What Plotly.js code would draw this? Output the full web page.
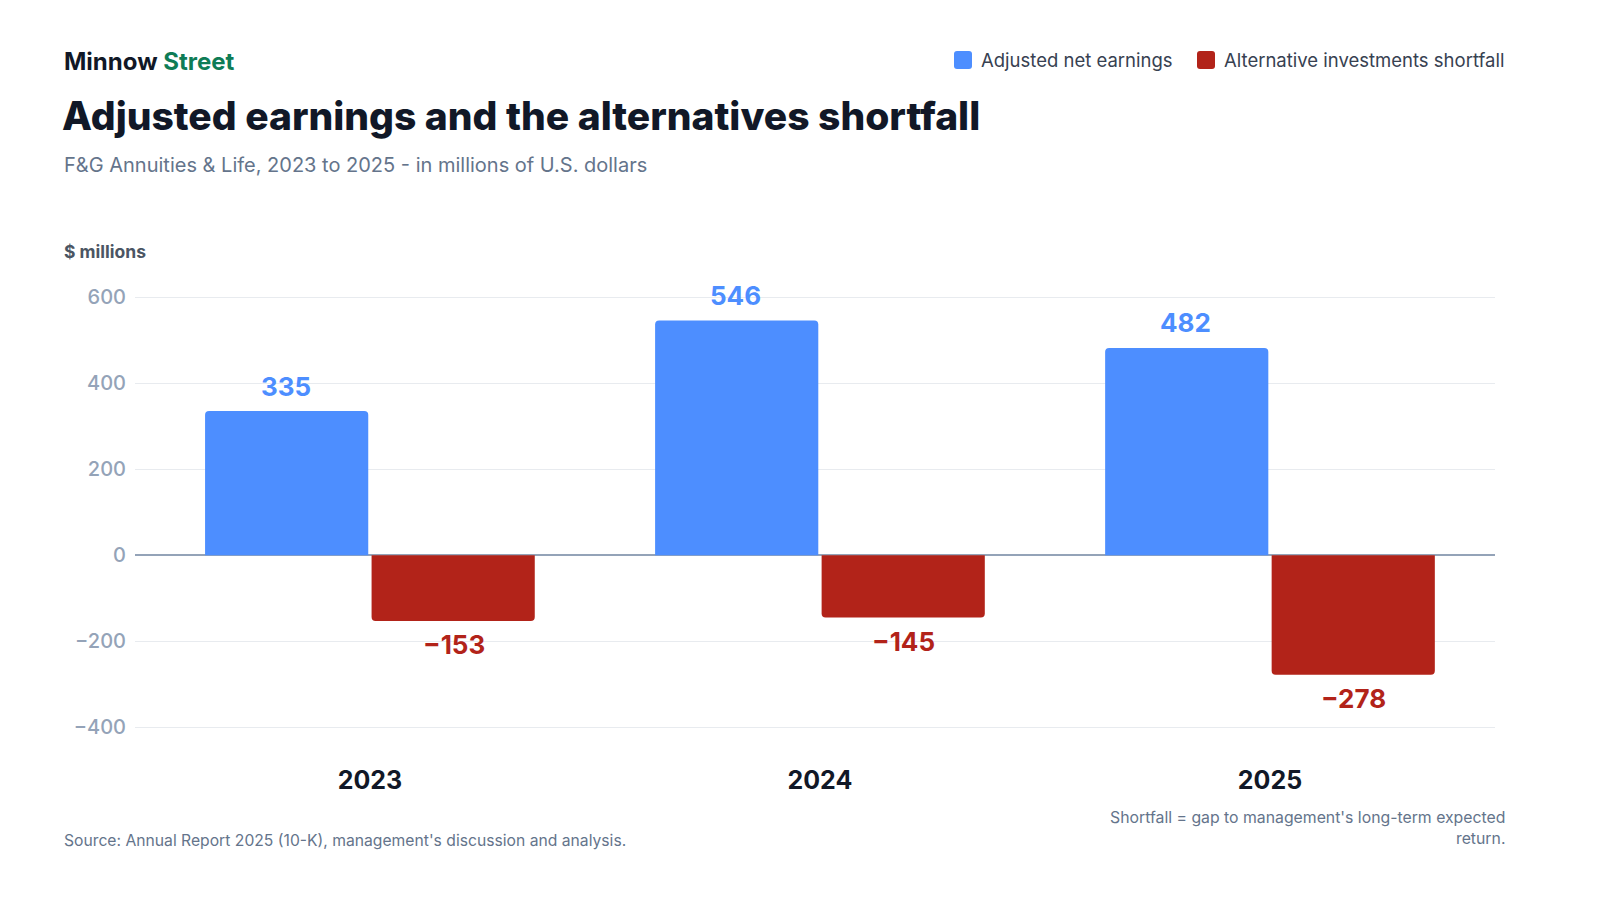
<!DOCTYPE html>
<html>
<head>
<meta charset="utf-8">
<script src="https://cdn.plot.ly/plotly-3.0.1.min.js"></script>
<style>
  html, body { margin: 0; padding: 0; background: #ffffff; }
  #chart { width: 1600px; height: 900px; }
</style>
</head>
<body>
<div id="chart"></div>
<script>
const years = ["2023", "2024", "2025"];
const adjustedNetEarnings = [335, 546, 482];
const altShortfall = [-153, -145, -278];
const seriesNames = ["Adjusted net earnings", "Alternative investments shortfall"];
const yTickValues = [-400, -200, 0, 200, 400, 600];

const BLUE = "#4D8EFF";
const RED = "#B22319";
const FONT = "Inter, 'Noto Sans', sans-serif";

function fmt(v) {
  return (v < 0 ? "\u2212" : "") + Math.abs(v);
}

const traces = [
  {
    type: "bar",
    name: seriesNames[0],
    x: years,
    y: adjustedNetEarnings,
    marker: { color: BLUE, cornerradius: 4 },
    hoverinfo: "skip",
    showlegend: false
  },
  {
    type: "bar",
    name: seriesNames[1],
    x: years,
    y: altShortfall,
    marker: { color: RED, cornerradius: 4 },
    hoverinfo: "skip",
    showlegend: false
  }
];

const W = 1600, H = 900;
const L = 135, R = 105, T = 280, B = 160;
const pw = W - L - R, ph = H - T - B;
function px(x) { return (x - L) / pw; }
function py(y) { return (H - B - y) / ph; }

const annotations = [];
years.forEach((yr, i) => {
  annotations.push({
    x: i, y: adjustedNetEarnings[i], xref: "x", yref: "y",
    xshift: -84, yshift: 25, yanchor: "middle", showarrow: false,
    text: "<b>" + fmt(adjustedNetEarnings[i]) + "</b>",
    font: { family: FONT, size: 26, color: BLUE }
  });
  annotations.push({
    x: i, y: altShortfall[i], xref: "x", yref: "y",
    xshift: 84, yshift: -24, yanchor: "middle", showarrow: false,
    text: "<b>" + fmt(altShortfall[i]) + "</b>",
    font: { family: FONT, size: 26, color: RED }
  });
});

function paperText(text, x, y, xanchor, font, extra) {
  return Object.assign({
    xref: "paper", yref: "paper", x: px(x), y: py(y),
    xanchor: xanchor, yanchor: "middle", showarrow: false,
    text: text, font: font
  }, extra || {});
}

annotations.push(
  paperText("<b>Minnow <span style='color:#0E7C56'>Street</span></b>", 62, 61, "left",
    { family: FONT, size: 24, color: "#111827" }),
  paperText("F&G Annuities & Life, 2023 to 2025 - in millions of U.S. dollars", 62, 165, "left",
    { family: FONT, size: 20, color: "#64748B" }),
  paperText("<b>$ millions</b>", 62, 252, "left",
    { family: FONT, size: 17.5, color: "#4B5563" }),
  paperText("Source: Annual Report 2025 (10-K), management's discussion and analysis.", 62, 840, "left",
    { family: FONT, size: 15.7, color: "#64748B" }),
  paperText("Shortfall = gap to management's long-term expected<br>return.", 1507, 828, "right",
    { family: FONT, size: 15.8, color: "#64748B" }, { align: "right" }),
  // custom legend labels
  paperText(seriesNames[0], 979, 60, "left",
    { family: FONT, size: 18.5, color: "#374151" }),
  paperText(seriesNames[1], 1222, 60, "left",
    { family: FONT, size: 18.5, color: "#374151" })
);

function roundedSquare(x0, y0, s, r, color) {
  const X0 = px(x0), X1 = px(x0 + s), Y0 = py(y0), Y1 = py(y0 + s);
  const rx = r / pw, ry = r / ph;
  const path = [
    "M", X0 + rx, Y0,
    "L", X1 - rx, Y0,
    "Q", X1, Y0, X1, Y0 - ry,
    "L", X1, Y1 + ry,
    "Q", X1, Y1, X1 - rx, Y1,
    "L", X0 + rx, Y1,
    "Q", X0, Y1, X0, Y1 + ry,
    "L", X0, Y0 - ry,
    "Q", X0, Y0, X0 + rx, Y0, "Z"
  ].join(" ");
  return { type: "path", xref: "paper", yref: "paper", path: path,
           fillcolor: color, line: { width: 0 }, layer: "above" };
}

const shapes = [
  roundedSquare(954, 51, 18, 3, BLUE),
  roundedSquare(1197, 51, 18, 3, RED)
];

const layout = {
  width: W, height: H,
  paper_bgcolor: "#ffffff",
  plot_bgcolor: "#ffffff",
  margin: { l: L, r: R, t: T, b: B, pad: 0 },
  font: { family: FONT },
  title: {
    text: "Adjusted earnings and the alternatives shortfall",
    font: { family: FONT, size: 39, color: "#111827", weight: 800 },
    xref: "container", yref: "container",
    x: 62 / W, xanchor: "left",
    y: 1 - 116 / H, yanchor: "middle"
  },
  barmode: "group",
  bargap: 0.26,
  bargroupgap: 0.02,
  showlegend: false,
  xaxis: {
    type: "category",
    range: [-0.522, 2.5],
    showgrid: false,
    zeroline: false,
    showline: false,
    ticks: "",
    ticklabelstandoff: 23,
    tickfont: { family: FONT, size: 25, color: "#111827", weight: "bold" },
    fixedrange: true
  },
  yaxis: {
    range: [-430, 640],
    tickvals: yTickValues,
    ticktext: yTickValues.map(fmt),
    showgrid: true,
    gridcolor: "#E8EBEF",
    gridwidth: 1,
    zeroline: true,
    zerolinecolor: "#94A3B8",
    zerolinewidth: 2,
    showline: false,
    ticks: "",
    ticklabelstandoff: 8,
    tickfont: { family: FONT, size: 20, color: "#94A3B8", weight: 500 },
    fixedrange: true
  },
  annotations: annotations,
  shapes: shapes
};

Plotly.newPlot("chart", traces, layout, { displayModeBar: false, staticPlot: true });
</script>
</body>
</html>
